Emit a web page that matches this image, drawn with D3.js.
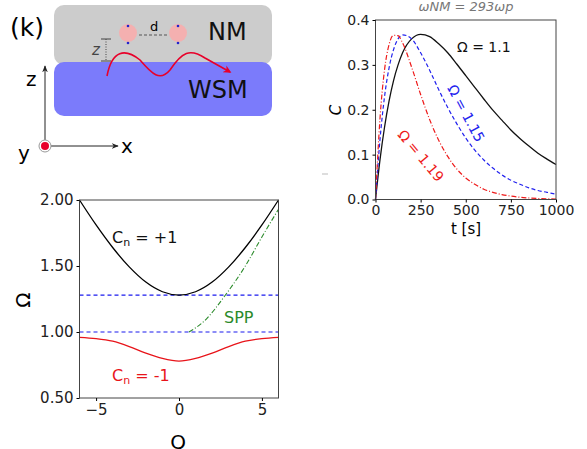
<!DOCTYPE html><html><head><meta charset="utf-8"><script src="https://d3js.org/d3.v7.min.js"></script>
<style>body{margin:0;background:#fff}text{font-family:"DejaVu Sans",sans-serif}</style></head><body>
<script>
// Left panel data (Q vs Omega)
const qBand = [-6,-5,-4,-3,-2,-1,0,1,2,3,4,5,6];
const upperBand = [2.0,1.811,1.640,1.493,1.378,1.305,1.28,1.305,1.378,1.493,1.640,1.811,2.0];
const lowerBand = [0.96,0.95,0.93,0.89,0.84,0.80,0.78,0.80,0.84,0.89,0.93,0.95,0.96];
const sppQ = [0.6,1.5,2.8,4,5,6];
const sppOmega = [1.0,1.08,1.28,1.5,1.72,1.93];
const hLines = [1.28,1.0];
const leftYTicks = [0.5,1.0,1.5,2.0];
const leftXTicks = [-5,0,5];
// Right panel data (t vs C)
const tVals = [0,25,50,75,100,125,150,200,250,300,350,400,450,500,550,600,650,700,750,800,850,900,950,1000];
const c11 = [0,.089,.161,.219,.265,.300,.327,.358,.368,.363,.347,.327,.302,.276,.250,.224,.199,.177,.155,.136,.119,.103,.090,.078];
const c115 = [0,.134,.229,.293,.334,.358,.367,.358,.327,.288,.245,.205,.169,.137,.110,.088,.070,.055,.043,.034,.026,.020,.016,.012];
const c119 = [0,.181,.289,.345,.366,.365,.349,.295,.234,.178,.132,.096,.068,.048,.034,.023,.016,.011,.0075,.005,.0034,.0023,.0015,.001];
const rightXTicks = [0,250,500,750,1000];
const rightYTicks = [0,0.1,0.2,0.3,0.4];

const svg = d3.select("body").append("svg").attr("width",587).attr("height",449);

// ---- schematic ----
const g0 = svg.append("g");
g0.append("rect").attr("x",54).attr("y",5).attr("width",218).attr("height",60).attr("rx",10).attr("fill","#cccccc");
g0.append("rect").attr("x",54).attr("y",62).attr("width",218).attr("height",54).attr("rx",10).attr("fill","#7b7bfb");
g0.append("text").attr("x",10).attr("y",36).attr("font-size",25).text("(k)");
g0.append("text").attr("x",208).attr("y",40).attr("font-size",24).attr("fill","#111").text("NM");
g0.append("text").attr("x",188).attr("y",98).attr("font-size",24).attr("fill","#111").text("WSM");
[128,178].forEach(cx=>{
  g0.append("circle").attr("cx",cx).attr("cy",33).attr("r",9).attr("fill","#f4b0b0");
  g0.append("circle").attr("cx",cx).attr("cy",26).attr("r",1.3).attr("fill","#22c");
  g0.append("circle").attr("cx",cx).attr("cy",43).attr("r",1.3).attr("fill","#22c");
});
g0.append("line").attr("x1",139).attr("x2",168).attr("y1",35).attr("y2",35).attr("stroke","#555").attr("stroke-dasharray","3,2");
g0.append("text").attr("x",150).attr("y",31).attr("font-size",13).text("d");
g0.append("line").attr("x1",106).attr("x2",106).attr("y1",39).attr("y2",61).attr("stroke","#444").attr("stroke-dasharray","1,1.5");
g0.append("line").attr("x1",101).attr("x2",111).attr("y1",39).attr("y2",39).attr("stroke","#444");
g0.append("line").attr("x1",101).attr("x2",111).attr("y1",61).attr("y2",61).attr("stroke","#444");
g0.append("text").attr("x",92).attr("y",55).attr("font-size",15).attr("font-style","italic").attr("fill","#444").text("z");
svg.append("defs").append("marker").attr("id","ar").attr("viewBox","0 0 10 10").attr("refX",8).attr("refY",5)
 .attr("markerWidth",6).attr("markerHeight",5).attr("orient","auto")
 .append("path").attr("d","M0,0L10,5L0,10L3,5Z").attr("fill","#e8002a");
g0.append("path").attr("d","M107,76 C112,50 125,48 140,60 C152,74 160,82 170,70 C182,52 190,48 205,58 L230,72")
 .attr("fill","none").attr("stroke","#e8002a").attr("stroke-width",1.6).attr("marker-end","url(#ar)");
svg.append("defs").append("marker").attr("id","ak").attr("viewBox","0 0 10 10").attr("refX",9).attr("refY",5)
 .attr("markerWidth",7).attr("markerHeight",7).attr("orient","auto")
 .append("path").attr("d","M0,1L10,5L0,9L3,5Z").attr("fill","#222");
g0.append("line").attr("x1",45).attr("y1",140).attr("x2",45).attr("y2",66).attr("stroke","#222").attr("marker-end","url(#ak)");
g0.append("line").attr("x1",51).attr("y1",146).attr("x2",118).attr("y2",146).attr("stroke","#222").attr("marker-end","url(#ak)");
g0.append("circle").attr("cx",45).attr("cy",146).attr("r",6).attr("fill","#fff").attr("stroke","#999");
g0.append("circle").attr("cx",45).attr("cy",146).attr("r",4).attr("fill","#e8002a");
g0.append("text").attr("x",26).attr("y",86).attr("font-size",20).text("z");
g0.append("text").attr("x",121).attr("y",153).attr("font-size",20).text("x");
g0.append("text").attr("x",18).attr("y",160).attr("font-size",20).text("y");

// ---- left plot ----
const xL = d3.scaleLinear().domain([-6,6]).range([79.5,278.5]);
const yL = d3.scaleLinear().domain([0.5,2.0]).range([398,200]);
const gL = svg.append("g");
const lineL = d3.line().x(d=>xL(d[0])).y(d=>yL(d[1])).curve(d3.curveMonotoneX);
hLines.forEach(v=>gL.append("line").attr("x1",xL(-6)).attr("x2",xL(6)).attr("y1",yL(v)).attr("y2",yL(v))
  .attr("stroke","#1a1aee").attr("stroke-width",1.2).attr("stroke-dasharray","4,3"));
gL.append("path").attr("d",lineL(qBand.map((q,i)=>[q,upperBand[i]]))).attr("fill","none").attr("stroke","#000").attr("stroke-width",1.3);
gL.append("path").attr("d",lineL(qBand.map((q,i)=>[q,lowerBand[i]]))).attr("fill","none").attr("stroke","#e8141a").attr("stroke-width",1.3);
gL.append("path").attr("d",lineL(sppQ.map((q,i)=>[q,sppOmega[i]]))).attr("fill","none").attr("stroke","#2a8a2a").attr("stroke-width",1.1).attr("stroke-dasharray","5,2,1,2");
gL.append("rect").attr("x",79.5).attr("y",200).attr("width",199).attr("height",198).attr("fill","none").attr("stroke","#444");
gL.append("g").attr("transform","translate(0,398)").call(d3.axisBottom(xL).tickValues(leftXTicks).tickFormat(d=>d<0?"\u2212"+(-d):d).tickSize(3))
 .call(a=>{a.select(".domain").remove();a.selectAll("text").attr("font-size",15).attr("fill","#222");});
gL.append("g").attr("transform","translate(79.5,0)").call(d3.axisLeft(yL).tickValues(leftYTicks).tickFormat(d3.format(".2f")).tickSize(3))
 .call(a=>{a.select(".domain").remove();a.selectAll("text").attr("font-size",15).attr("fill","#222");});
gL.append("text").attr("x",112).attr("y",243).attr("font-size",16).attr("fill","#111").html('C<tspan font-size="11" dy="3">n</tspan><tspan dy="-3"> = +1</tspan>');
gL.append("text").attr("x",112).attr("y",381).attr("font-size",16).attr("fill","#e8141a").html('C<tspan font-size="11" dy="3">n</tspan><tspan dy="-3"> = -1</tspan>');
gL.append("text").attr("x",224).attr("y",323).attr("font-size",16).attr("fill","#2a8a2a").text("SPP");
gL.append("text").attr("transform","translate(30,300) rotate(-90)").attr("text-anchor","middle").attr("font-size",20).text("Ω");
gL.append("text").attr("x",178).attr("y",449).attr("text-anchor","middle").attr("font-size",20).text("Q");

// ---- right plot ----
const xR = d3.scaleLinear().domain([0,1000]).range([375.5,556]);
const yR = d3.scaleLinear().domain([0,0.4]).range([199.5,20]);
const gR = svg.append("g");
const lineR = d3.line().x(d=>xR(d[0])).y(d=>yR(d[1])).curve(d3.curveMonotoneX);
gR.append("path").attr("d",lineR(tVals.map((t,i)=>[t,c11[i]]))).attr("fill","none").attr("stroke","#111").attr("stroke-width",1.3);
gR.append("path").attr("d",lineR(tVals.map((t,i)=>[t,c115[i]]))).attr("fill","none").attr("stroke","#2222ee").attr("stroke-width",1.2).attr("stroke-dasharray","4,2.5");
gR.append("path").attr("d",lineR(tVals.map((t,i)=>[t,c119[i]]))).attr("fill","none").attr("stroke","#ee1a1a").attr("stroke-width",1.2).attr("stroke-dasharray","5,2,1,2");
gR.append("rect").attr("x",375.5).attr("y",20).attr("width",180.5).attr("height",179.5).attr("fill","none").attr("stroke","#444");
gR.append("g").attr("transform","translate(0,199.5)").call(d3.axisBottom(xR).tickValues(rightXTicks).tickFormat(d3.format("d")).tickSize(3))
 .call(a=>{a.select(".domain").remove();a.selectAll("text").attr("font-size",14).attr("fill","#222");});
gR.append("g").attr("transform","translate(375.5,0)").call(d3.axisLeft(yR).tickValues(rightYTicks).tickFormat(d3.format(".1f")).tickSize(3))
 .call(a=>{a.select(".domain").remove();a.selectAll("text").attr("font-size",14).attr("fill","#222");});
gR.append("text").attr("x",457).attr("y",52).attr("font-size",14).attr("fill","#111").text("Ω = 1.1");
gR.append("text").attr("transform","translate(447,88) rotate(62)").attr("font-size",14).attr("fill","#2222ee").text("Ω = 1.15");
gR.append("text").attr("transform","translate(397,135) rotate(50)").attr("font-size",14).attr("fill","#ee1a1a").text("Ω = 1.19");
gR.append("text").attr("transform","translate(341,110) rotate(-90)").attr("text-anchor","middle").attr("font-size",15).attr("font-style","italic").text("C");
gR.append("text").attr("x",466).attr("y",234).attr("text-anchor","middle").attr("font-size",15).text("t [s]");
gR.append("text").attr("x",466).attr("y",11).attr("text-anchor","middle").attr("font-size",13).attr("font-style","italic").attr("fill","#777").text("ωNM = 293ωp");
gR.append("line").attr("x1",322).attr("x2",328).attr("y1",174).attr("y2",174).attr("stroke","#bbb");
</script></body></html>
